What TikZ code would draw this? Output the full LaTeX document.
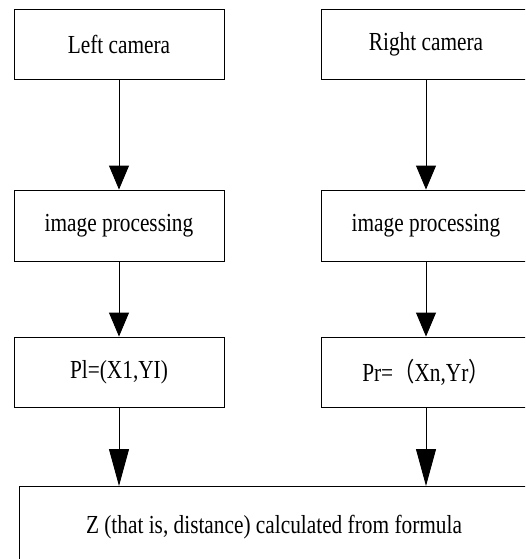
\documentclass[tikz,border=0pt]{standalone}
\usepackage{fontspec}
\setmainfont{Liberation Serif}[FakeStretch=0.82]
\newfontfamily\cjkfont{Noto Sans CJK SC}[FakeStretch=0.82]
\usetikzlibrary{arrows.meta}
\begin{document}
\begin{tikzpicture}[x=1pt,y=-1pt,
  box/.style={draw=black, line width=0.9pt, rectangle, minimum width=210pt, minimum height=70pt, inner sep=0pt, font=\fontsize{26}{30}\selectfont},
  bigbox/.style={draw=black, line width=0.9pt, rectangle, minimum width=510pt, minimum height=82pt, inner sep=0pt, font=\fontsize{26}{30}\selectfont},
  arr/.style={line width=0.9pt, -{Triangle[width=20pt,length=24pt]}},
  arrlong/.style={line width=0.9pt, -{Triangle[width=20pt,length=37pt]}}]
\useasboundingbox (0,0) rectangle (525,559);
\clip (0,0) rectangle (525,559);
\fill[white] (0,0) rectangle (525,559);
\node[box] (lc) at (119,44) {Left camera};
\node[box] (rc) at (426,44) {Right camera};
\node[box, minimum height=71pt] (lp) at (119,225.5) {image processing};
\node[box, minimum height=71pt] (rp) at (426,225.5) {image processing};
\node[box] (pl) at (119,372) {Pl=(X1,YI)};
\node[box] (pr) at (426,372) {Pr={\cjkfont （}Xn,Yr{\cjkfont ）}};
\node[bigbox] (z) at (274,527) {Z (that is, distance) calculated from formula};
\coordinate (zl) at (119,486);
\coordinate (zr) at (426,486);
\draw[arr] (lc.south) -- (lp.north);
\draw[arr] (rc.south) -- (rp.north);
\draw[arr] (lp.south) -- (pl.north);
\draw[arr] (rp.south) -- (pr.north);
\draw[arrlong] (pl.south) -- (zl);
\draw[arrlong] (pr.south) -- (zr);
\end{tikzpicture}
\end{document}
